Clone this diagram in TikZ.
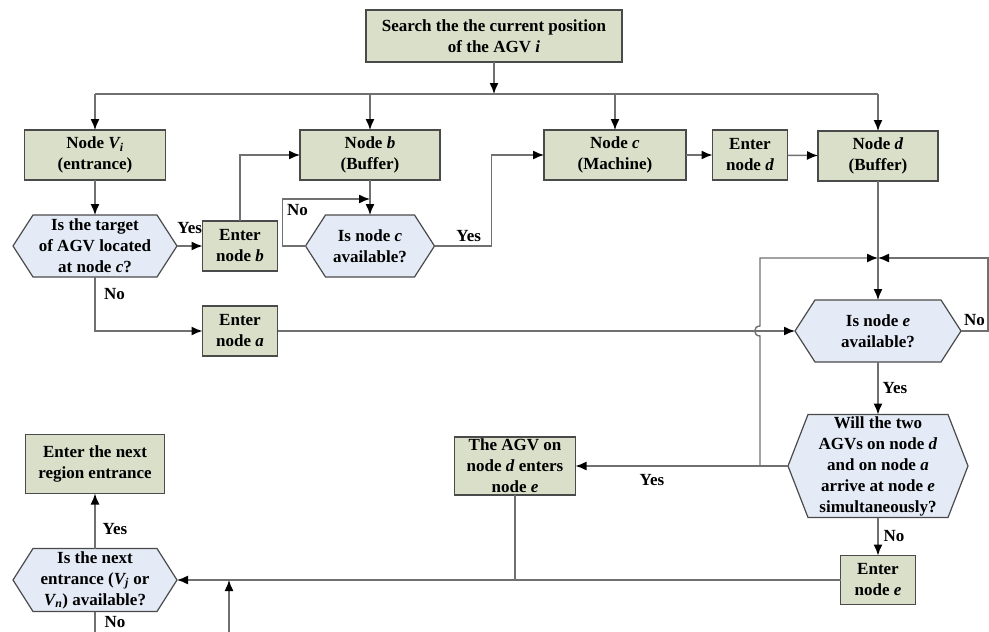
\documentclass[tikz,border=0pt]{standalone}
\usepackage{fontspec}
\setmainfont{Liberation Serif}
\usetikzlibrary{positioning,arrows.meta,backgrounds,calc}
\definecolor{procfill}{HTML}{DADFCA}
\definecolor{askfill}{HTML}{E4EBF6}
\definecolor{edgeline}{HTML}{4A4A4A}
\definecolor{flowline}{HTML}{707070}
\newcommand{\flowfont}{\fontsize{17}{21}\selectfont\bfseries}
\tikzset
{
    procbox/.style  = {rectangle, draw=edgeline, fill=procfill, line width=1.2pt, align=center, inner sep=0pt, outer sep=0pt, font=\flowfont},
    askbox/.style   = {rectangle, align=center, inner sep=0pt, outer sep=0pt, font=\flowfont},
    askshape/.style = {draw=edgeline, fill=askfill, line width=1.2pt, line join=miter},
    flow/.style     = {draw=flowline, line width=1.4pt},
    flowarrow/.style = {flow, -{Latex[length=11pt,width=9pt,color=black]}},
    answer/.style   = {font=\flowfont, inner sep=1pt}
}

\begin{document}
\begin{tikzpicture}[x=1pt, y=-1pt]
	\useasboundingbox (0,0) rectangle (989,632);
	% boxes
	\node[procbox, minimum width=256, minimum height=52] (search) at (494,36) {Search the the current position\\of the AGV \textit{i}};
	\node[procbox, minimum width=141, minimum height=50] (vi) at (95,155) {Node \textit{V\textsubscript{i}}\\(entrance)};
	\node[procbox, minimum width=140, minimum height=50] (nb) at (370,155) {Node \textit{b}\\(Buffer)};
	\node[procbox, minimum width=142, minimum height=50] (nc) at (615,155) {Node \textit{c}\\(Machine)};
	\node[procbox, minimum width=75, minimum height=50] (ed) at (750,155) {Enter\\node \textit{d}};
	\node[procbox, minimum width=120, minimum height=50] (nd) at (878,156) {Node \textit{d}\\(Buffer)};
	\node[procbox, minimum width=75, minimum height=50] (eb) at (240,246) {Enter\\node \textit{b}};
	\node[procbox, minimum width=75, minimum height=50] (ea) at (240,331) {Enter\\node \textit{a}};
	\node[procbox, minimum width=121, minimum height=58] (agv) at (515,466) {The AGV on\\node \textit{d} enters\\node \textit{e}};
	\node[procbox, minimum width=75, minimum height=49] (ee) at (878,580) {Enter\\node \textit{e}};
	\node[procbox, minimum width=139, minimum height=59] (reg) at (95,464) {Enter the next\\region entrance};
	% decisions
	\node[askbox, minimum width=164, minimum height=62] (tgt) at (95,246) {Is the target\\of AGV located\\at node \textit{c}?};
	\node[askbox, minimum width=129, minimum height=62] (avc) at (370,246) {Is node \textit{c}\\available?};
	\node[askbox, minimum width=166, minimum height=62] (ave) at (878,331) {Is node \textit{e}\\available?};
	\node[askbox, minimum width=180, minimum height=103] (sim) at (878,466) {Will the two\\AGVs on node \textit{d}\\and on node \textit{a}\\arrive at node \textit{e}\\simultaneously?};
	\node[askbox, minimum width=164, minimum height=63] (nxt) at (95,580) {Is the next\\entrance (\textit{V\textsubscript{j}} or\\\textit{V\textsubscript{n}}) available?};
	\begin{scope}[on background layer]
		\foreach \q in {tgt,avc,ave,sim,nxt}
			\draw[askshape] (\q.west) -- ([xshift=20pt]\q.north west) -- ([xshift=-20pt]\q.north east) -- (\q.east) -- ([xshift=-20pt]\q.south east) -- ([xshift=20pt]\q.south west) -- cycle;
	\end{scope}
	% junctions
	\coordinate (bus) at (494,94);
	\coordinate (merge) at (878,258);
	\coordinate (loopL) at (760,466);
	\coordinate (loopB) at (370,199);
	\coordinate (inlet) at (229,632);
	\coordinate (outlet) at (95,632);
	% connectors
	\draw[flowarrow] (search) -- (bus);
	\draw[flow] (vi.north |- bus) -- (nd.north |- bus);
	\foreach \n in {vi,nb,nc,nd}
		\draw[flowarrow] (\n.north |- bus) -- (\n.north);
	\draw[flowarrow] (vi) -- (tgt);
	\draw[flowarrow] (tgt.east) -- node[answer, above=11pt]{Yes} (eb.west);
	\draw[flowarrow] (eb.north) |- (nb.west);
	\draw[flowarrow] (nb) -- (avc);
	\draw[flowarrow] (avc.west) -- ++(-23,0) |- node[answer, below right=4pt and 3pt, pos=0.5]{No} (loopB);
	\draw[flowarrow] (avc.east) -- node[answer, above=3pt, pos=0.6]{Yes} ++(57,0) |- (nc.west);
	\draw[flowarrow] (nc) -- (ed);
	\draw[flowarrow] (ed) -- (nd);
	\draw[flowarrow] (tgt.south) |- (ea.west);
	\node[answer, anchor=north west] at ([xshift=8pt,yshift=-10pt]tgt.south) {No};
	\draw[flowarrow] (ea.east) -- (ave.west);
	\draw[flowarrow] (nd) -- (ave);
	\draw[flowarrow] (ave.east) -- node[answer, above=4pt]{No} ++(27,0) |- (merge);
	\draw[flowarrow] (loopL) -- ([yshift=-5pt]loopL |- ea) .. controls ([xshift=-7pt,yshift=-5pt]loopL |- ea) and ([xshift=-7pt,yshift=5pt]loopL |- ea) .. ([yshift=5pt]loopL |- ea) -- (loopL |- merge) -- (merge);
	\draw[flowarrow] (ave) -- node[answer, right=3pt]{Yes} (sim);
	\draw[flowarrow] (sim.west) -- node[answer, below=7pt, pos=0.64]{Yes} (agv.east);
	\draw[flowarrow] (sim) -- node[answer, right=4pt]{No} (ee);
	\draw[flow] (agv.south) -- (agv.south |- ee.west);
	\draw[flowarrow] (ee.west) -- (nxt.east);
	\draw[flowarrow] (inlet) -- (inlet |- nxt.east);
	\draw[flowarrow] (nxt) -- node[answer, right=6pt, pos=0.35]{Yes} (reg);
	\draw[flow] (nxt.south) -- node[answer, right=8pt]{No} (outlet);
\end{tikzpicture}
\end{document}
